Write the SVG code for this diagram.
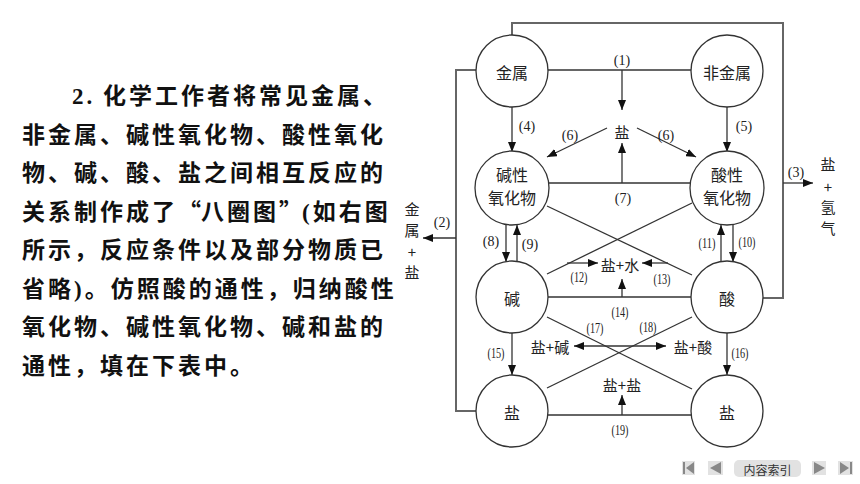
<svg xmlns="http://www.w3.org/2000/svg" width="860" height="484" viewBox="0 0 860 484">
<style>
.para{font-family:"Liberation Serif","Noto Sans CJK SC",serif;font-size:23px;font-weight:bold;fill:#111;letter-spacing:3px}
.q{font-family:"Noto Sans CJK SC",sans-serif;letter-spacing:0}
.nd{fill:#fff;stroke:#333;stroke-width:1.3}
.nt{font-family:"Noto Sans CJK SC",sans-serif;font-size:16px;fill:#222;text-anchor:middle;dominant-baseline:central}
.lb{font-family:"Liberation Serif",serif;font-size:14px;fill:#222;text-anchor:middle;dominant-baseline:central}
.ct{font-family:"Noto Sans CJK SC",sans-serif;font-size:15px;fill:#222;text-anchor:middle;dominant-baseline:central}
.ln{stroke:#333;stroke-width:1.3;fill:none}
.ol{stroke:#666;stroke-width:2;fill:none}
.ar{stroke:#333;stroke-width:1.3;fill:none;marker-end:url(#ah)}
.nav{fill:#e2e2e2}
.tri{fill:#888}
</style>
<defs>
<marker id="ah" viewBox="0 0 10 8" refX="10" refY="4" markerWidth="10" markerHeight="8" orient="auto" markerUnits="userSpaceOnUse"><path d="M0,0 L10,4 L0,8 z" fill="#111"/></marker>
</defs>
<rect width="860" height="484" fill="#fff"/>

<g id="paragraph">
<text class="para" x="72" y="104"><tspan>2.</tspan><tspan x="103">化学工作者将常见金属、</tspan></text>
<text class="para" x="22" y="143">非金属、碱性氧化物、酸性氧化</text>
<text class="para" x="22" y="181">物、碱、酸、盐之间相互反应的</text>
<text class="para" x="22" y="220">关系制作成了<tspan class="q">“</tspan>八圈图<tspan class="q">”</tspan>(如右图</text>
<text class="para" x="22" y="258">所示，反应条件以及部分物质已</text>
<text class="para" x="22" y="297">省略)。仿照酸的通性，归纳酸性</text>
<text class="para" x="22" y="335">氧化物、碱性氧化物、碱和盐的</text>
<text class="para" x="22" y="374">通性，填在下表中。</text>
</g>

<g id="connectors">
<polyline class="ol" points="512,35 512,23 783,23 783,298 763,298"/>
<line class="ar" x1="783" y1="183" x2="813" y2="183"/>
<polyline class="ol" points="476,70 456,70 456,411 476,411"/>
<line class="ar" x1="456" y1="238" x2="423" y2="238"/>
<line class="ln" x1="548" y1="70" x2="691" y2="70"/>
<line class="ar" x1="622" y1="70" x2="622" y2="110"/>
<line class="ar" x1="607" y1="128" x2="547" y2="157"/>
<line class="ar" x1="637" y1="128" x2="696" y2="157"/>
<line class="ln" x1="548" y1="183" x2="692" y2="183"/>
<line class="ar" x1="622" y1="183" x2="622" y2="143"/>
<line class="ar" x1="512" y1="107" x2="512" y2="152"/>
<line class="ar" x1="727" y1="107" x2="727" y2="152"/>
<line class="ar" x1="506" y1="225" x2="506" y2="262"/>
<line class="ar" x1="517" y1="262" x2="517" y2="225"/>
<line class="ar" x1="733" y1="225" x2="733" y2="262"/>
<line class="ar" x1="721" y1="262" x2="721" y2="225"/>
<line class="ln" x1="547" y1="206" x2="692" y2="275"/>
<line class="ln" x1="692" y1="203" x2="547" y2="274"/>
<line class="ar" x1="567" y1="263" x2="598" y2="263"/>
<line class="ar" x1="668" y1="263" x2="642" y2="263"/>
<line class="ln" x1="548" y1="297" x2="691" y2="297"/>
<line class="ar" x1="622" y1="297" x2="622" y2="279"/>
<line class="ln" x1="547" y1="317" x2="692" y2="389"/>
<line class="ln" x1="547" y1="388" x2="692" y2="317"/>
<line class="ar" x1="620" y1="346" x2="574" y2="346"/>
<line class="ar" x1="620" y1="346" x2="666" y2="346"/>
<line class="ar" x1="512" y1="333" x2="512" y2="375"/>
<line class="ar" x1="727" y1="333" x2="727" y2="375"/>
<line class="ln" x1="548" y1="415" x2="691" y2="415"/>
<line class="ar" x1="622" y1="415" x2="622" y2="395"/>
</g>

<g id="labels">
<text class="lb" x="622" y="60">(1)</text>
<text class="lb" x="796" y="172">(3)</text>
<text class="lb" x="442" y="222">(2)</text>
<text class="lb" x="527" y="126">(4)</text>
<text class="lb" x="744" y="126">(5)</text>
<text class="lb" x="570" y="135">(6)</text>
<text class="lb" x="666" y="135">(6)</text>
<text class="lb" x="623" y="198">(7)</text>
<text class="lb" x="491" y="241">(8)</text>
<text class="lb" x="530" y="244">(9)</text>
<text class="lb" x="747" y="242" textLength="17" lengthAdjust="spacingAndGlyphs">(10)</text>
<text class="lb" x="707" y="243" textLength="17" lengthAdjust="spacingAndGlyphs">(11)</text>
<text class="lb" x="579" y="277" textLength="17" lengthAdjust="spacingAndGlyphs">(12)</text>
<text class="lb" x="662" y="279" textLength="17" lengthAdjust="spacingAndGlyphs">(13)</text>
<text class="lb" x="620" y="312" textLength="17" lengthAdjust="spacingAndGlyphs">(14)</text>
<text class="lb" x="496" y="353" textLength="17" lengthAdjust="spacingAndGlyphs">(15)</text>
<text class="lb" x="740" y="353" textLength="17" lengthAdjust="spacingAndGlyphs">(16)</text>
<text class="lb" x="595" y="328" textLength="17" lengthAdjust="spacingAndGlyphs">(17)</text>
<text class="lb" x="648" y="327" textLength="17" lengthAdjust="spacingAndGlyphs">(18)</text>
<text class="lb" x="620" y="430" textLength="17" lengthAdjust="spacingAndGlyphs">(19)</text>
<text class="ct" x="622" y="131">盐</text>
<text class="ct" x="620" y="264">盐+水</text>
<text class="ct" x="550" y="346">盐+碱</text>
<text class="ct" x="693" y="346">盐+酸</text>
<text class="ct" x="622" y="384">盐+盐</text>
<text class="ct" x="412" y="208">金</text>
<text class="ct" x="412" y="229">属</text>
<text class="ct" x="412" y="251">+</text>
<text class="ct" x="412" y="271">盐</text>
<text class="ct" x="828" y="163">盐</text>
<text class="ct" x="828" y="186">+</text>
<text class="ct" x="828" y="206">氢</text>
<text class="ct" x="828" y="227">气</text>
</g>

<g id="n-jinshu"><circle class="nd" cx="512" cy="71" r="36"/><text class="nt" x="512" y="72">金属</text></g>
<g id="n-feijinshu"><circle class="nd" cx="727" cy="71" r="36"/><text class="nt" x="727" y="72">非金属</text></g>
<g id="n-jianxing"><circle class="nd" cx="512" cy="188" r="37"/><text class="nt" x="512" y="174">碱性</text><text class="nt" x="512" y="197">氧化物</text></g>
<g id="n-suanxing"><circle class="nd" cx="727" cy="188" r="37"/><text class="nt" x="727" y="174">酸性</text><text class="nt" x="727" y="197">氧化物</text></g>
<g id="n-jian"><circle class="nd" cx="512" cy="297" r="36"/><text class="nt" x="512" y="298">碱</text></g>
<g id="n-suan"><circle class="nd" cx="727" cy="297" r="36"/><text class="nt" x="727" y="298">酸</text></g>
<g id="n-yan1"><circle class="nd" cx="512" cy="411" r="36"/><text class="nt" x="512" y="412">盐</text></g>
<g id="n-yan2"><circle class="nd" cx="727" cy="411" r="36"/><text class="nt" x="727" y="412">盐</text></g>

<g id="nav">
<rect class="nav" x="682" y="461" width="13" height="14"/><rect class="tri" x="683" y="462" width="2" height="12"/><path class="tri" d="M694,462 L686,468 L694,474 z"/>
<rect class="nav" x="708" y="461" width="15" height="14"/><path class="tri" d="M721,462 L710,468 L721,474 z"/>
<rect class="nav" x="734" y="460" width="67" height="17" rx="5"/>
<text x="767.5" y="469" style="font-family:'Noto Sans CJK SC',sans-serif;font-size:12px;fill:#333;text-anchor:middle;dominant-baseline:central">内容索引</text>
<rect class="nav" x="812" y="461" width="14" height="14"/><path class="tri" d="M814,462 L825,468 L814,474 z"/>
<rect class="nav" x="838" y="461" width="15" height="14"/><path class="tri" d="M840,462 L849,468 L840,474 z"/><rect class="tri" x="850" y="462" width="2" height="12"/>
</g>
</svg>
